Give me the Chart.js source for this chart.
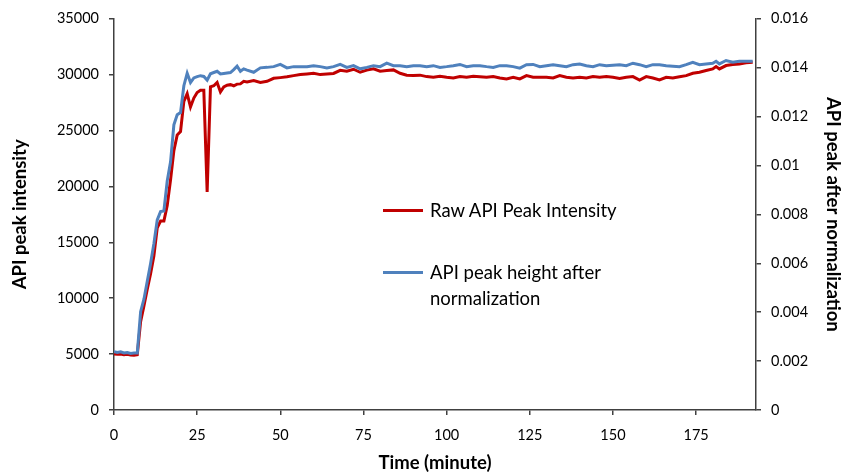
<!DOCTYPE html>
<html>
<head>
<meta charset="utf-8">
<script src="https://cdn.jsdelivr.net/npm/chart.js@4"></script>
<style>
  body { margin: 0; background: #fff; }
  #wrap { position: relative; width: 845px; height: 473px; }
  #legend { position: absolute; left: 0; top: 0; font-family: Lato, sans-serif; font-size: 18.5px; color: #000; }
  .item { position: absolute; }
  .swatch { position: absolute; width: 40px; height: 3px; }
  .label { position: absolute; line-height: 26px; white-space: nowrap; }
</style>
</head>
<body>
<div id="wrap">
  <canvas id="chart" width="845" height="473"></canvas>
  <div id="legend"></div>
</div>
<script>
// time in minutes
const times = [
  0, 1, 2, 3, 4, 5, 6, 7, 8, 9, 10, 11, 12, 13, 14, 15, 16, 17, 18, 19, 20,
  21, 22, 23, 24, 25, 26, 27, 28, 29, 30, 31, 32, 33, 34, 35, 36, 37, 38, 39, 40,
  42, 44, 46, 48, 50, 52, 54, 56, 58, 60, 62, 64, 66, 68, 70, 72, 74, 76, 78, 80,
  82, 84, 86, 88, 90, 92, 94, 96, 98, 100, 102, 104, 106, 108, 110, 112, 114, 116, 118, 120,
  122, 124, 126, 128, 130, 132, 134, 136, 138, 140, 142, 144, 146, 148, 150, 152, 154, 156, 158, 160,
  162, 164, 166, 168, 170, 172, 174, 176, 178, 180, 181, 182, 184, 186, 188, 190, 192
];

// raw API peak intensity (left axis)
const rawIntensity = [
  5000, 4980, 5000, 4950, 4980, 4920, 4900, 4950, 7900, 9300, 10800, 12200, 13800, 16300, 16900, 16900, 18300, 20600, 23200, 24600, 24900,
  27600, 28300, 27100, 27900, 28400, 28600, 28600, 19500, 28900, 29000, 29300, 28450, 28900, 29050, 29100, 29000, 29150, 29170, 29400, 29350,
  29460, 29300, 29400, 29670, 29730, 29800, 29910, 30000, 30060, 30120, 30000, 30060, 30100, 30380, 30300, 30480, 30210, 30400, 30510, 30300,
  30360, 30420, 30120, 29950, 29910, 29950, 29820, 29760, 29850, 29760, 29700, 29820, 29760, 29850, 29800, 29760, 29820, 29700, 29610, 29760,
  29610, 29910, 29760, 29760, 29760, 29700, 29910, 29760, 29700, 29760, 29700, 29820, 29760, 29820, 29760, 29650, 29760, 29820, 29520, 29820,
  29700, 29520, 29760, 29700, 29800, 29910, 30120, 30210, 30360, 30510, 30720, 30510, 30810, 30900, 30950, 31050, 31100
];

// API peak height after normalization (right axis)
const normalizedHeight = [
  0.00238, 0.00235, 0.00238, 0.00233, 0.00235, 0.00231, 0.00233, 0.00233, 0.00402, 0.00453, 0.00526, 0.00599, 0.00681, 0.00777, 0.00811, 0.00814, 0.00937, 0.01015, 0.01166, 0.01207, 0.01216,
  0.01326, 0.01377, 0.01339, 0.01358, 0.01363, 0.01367, 0.01364, 0.01349, 0.01375, 0.0138, 0.01385, 0.01374, 0.01376, 0.01378, 0.0138, 0.01392, 0.01406, 0.01385, 0.01395, 0.0139,
  0.01381, 0.01399, 0.01401, 0.01404, 0.01413, 0.01399, 0.01404, 0.01404, 0.01404, 0.01408, 0.01404, 0.01399, 0.01404, 0.01413, 0.01401, 0.01408, 0.01395, 0.01401, 0.01408, 0.01404,
  0.01418, 0.01408, 0.01408, 0.01404, 0.01408, 0.01408, 0.01404, 0.01408, 0.01401, 0.01404, 0.01408, 0.01413, 0.01404, 0.01408, 0.01408, 0.01404, 0.01401, 0.01408, 0.01408, 0.01404,
  0.01398, 0.01412, 0.01413, 0.01404, 0.01408, 0.01412, 0.01408, 0.01404, 0.01412, 0.01415, 0.01408, 0.01404, 0.01412, 0.01408, 0.0141, 0.01412, 0.01408, 0.01418, 0.01412, 0.01404,
  0.01412, 0.01412, 0.01408, 0.01406, 0.01404, 0.01412, 0.01422, 0.01412, 0.01415, 0.01418, 0.01426, 0.01415, 0.01429, 0.01422, 0.01426, 0.01426, 0.01426
];

const xTicksMax = 193;

const tickFont = { family: 'Lato', size: 14.5 };
const titleFont = { family: 'Lato', size: 18.5, weight: 'bold', lineHeight: 1.2 };
const axisColor = '#404040';

const toPoints = (ys) => ys.map((y, i) => ({ x: times[i], y: y }));

const chart = new Chart(document.getElementById('chart'), {
  type: 'line',
  data: {
    datasets: [
      {
        label: 'Raw API Peak Intensity',
        data: toPoints(rawIntensity),
        borderColor: '#C00000',
        borderWidth: 3,
        pointRadius: 0,
        yAxisID: 'y',
        order: 1
      },
      {
        label: 'API peak height after normalization',
        data: toPoints(normalizedHeight),
        borderColor: '#4F81BD',
        borderWidth: 3,
        pointRadius: 0,
        yAxisID: 'y1',
        order: 0
      }
    ]
  },
  options: {
    responsive: false,
    animation: false,
    layout: { padding: { top: 18, left: 0, right: 0, bottom: 0 } },
    plugins: {
      legend: { display: false },
      tooltip: { enabled: false }
    },
    scales: {
      x: {
        type: 'linear',
        min: 0,
        max: xTicksMax,
        afterFit: (s) => { s.height = 63; },
        ticks: { stepSize: 25, includeBounds: false, color: '#000', font: tickFont, padding: 12, maxRotation: 0 },
        grid: { drawOnChartArea: false, tickLength: 5, color: axisColor, lineWidth: 1.5 },
        border: { color: axisColor, width: 1.5 },
        title: { display: true, text: 'Time (minute)', color: '#000', font: titleFont, padding: { top: 0, bottom: -1 } }
      },
      y: {
        position: 'left',
        min: 0,
        max: 35000,
        afterFit: (s) => { s.width = 114; },
        ticks: { stepSize: 5000, color: '#000', font: tickFont, padding: 10, callback: (v) => String(v) },
        grid: { drawOnChartArea: false, tickLength: 5, color: axisColor, lineWidth: 1.5 },
        border: { color: axisColor, width: 1.5 },
        title: { display: true, text: 'API peak intensity', color: '#000', font: titleFont, padding: { top: 9, bottom: 0 } }
      },
      y1: {
        position: 'right',
        min: 0,
        max: 0.016,
        afterFit: (s) => { s.width = 89; },
        ticks: { stepSize: 0.002, color: '#000', font: tickFont, padding: 10, callback: (v) => String(+v.toFixed(3)) },
        grid: { drawOnChartArea: false, tickLength: 5, color: axisColor, lineWidth: 1.5 },
        border: { color: axisColor, width: 1.5 },
        title: { display: true, text: 'API peak after normalization', color: '#000', font: titleFont, padding: { top: 1, bottom: 0 } }
      }
    }
  }
});

// legend box inside the plot, built from the datasets
const legendEl = document.getElementById('legend');
const legendLines = [
  ['Raw API Peak Intensity'],
  ['API peak height after', 'normalization']
];
const legendTops = [197, 259];
chart.data.datasets.forEach((ds, i) => {
  const item = document.createElement('div');
  item.className = 'item';
  item.style.left = '383px';
  item.style.top = legendTops[i] + 'px';
  const sw = document.createElement('div');
  sw.className = 'swatch';
  sw.style.background = ds.borderColor;
  sw.style.left = '0px';
  sw.style.top = '12px';
  const lab = document.createElement('div');
  lab.className = 'label';
  lab.style.left = '47px';
  lab.style.top = '0px';
  lab.innerHTML = legendLines[i].join('<br>');
  item.appendChild(sw);
  item.appendChild(lab);
  legendEl.appendChild(item);
});
</script>
</body>
</html>
